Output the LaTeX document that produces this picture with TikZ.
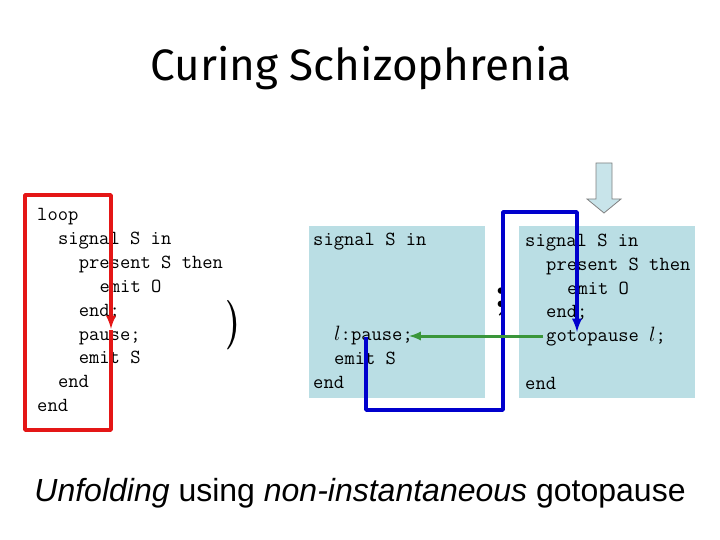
\documentclass[tikz,border=0pt]{standalone}
\usepackage{fontspec}
\newfontfamily\titlefont{Fira Sans}
\newfontfamily\captionfont{Liberation Sans}
\usetikzlibrary{arrows}

\definecolor{boxblue}{RGB}{186,222,228}
\definecolor{arrowblue}{RGB}{200,228,234}
\definecolor{loopred}{RGB}{228,22,22}
\definecolor{jumpblue}{RGB}{0,0,205}
\definecolor{jumpgreen}{RGB}{58,150,58}

\newcommand{\codesize}{\fontsize{20}{24}\selectfont\ttfamily}

\tikzset{
    code/.style={anchor=base west, inner sep=0pt, font=\codesize},
    flow/.style={line width=3.5pt, line join=round},
}

\begin{document}
\begin{tikzpicture}[x=1pt,y=-1pt,>=latex]
    \useasboundingbox (0,0) rectangle (720,540);

    \node[font=\titlefont\fontsize{44}{46}\selectfont] (title) at (361,68) {Curing Schizophrenia};

    % shaded boxes
    \fill[boxblue] (309,226) rectangle (485,398);
    \fill[boxblue] (519,226) rectangle (695,398);

    % original program
    \foreach \lvl/\txt [count=\i] in {0/loop, 1/signal S in, 2/present S then, 3/emit O,
        2/end;, 2/pause;, 2/emit S, 1/end, 0/end}
        \node[code] (L\i) at (37+20.8*\lvl, 221+23.8*\i-23.8) {\txt};

    \node[font=\fontsize{38}{38}\selectfont\bfseries] (paren) at (233,325) {\scalebox{0.9}[1.3]{)}};

    % unfolded program
    \node[code] (M1) at (313,245) {signal S in};
    \node[code] (M2) at (334,340) {$l$:pause;};
    \node[code] (M3) at (334,364) {emit S};
    \node[code] (M4) at (313,388) {end};

    \node[font=\fontsize{44}{44}\selectfont\bfseries] (semi) at (501,302) {;};

    \node[code] (R1) at (525,246) {signal S in};
    \node[code] (R2) at (546,270) {present S then};
    \node[code] (R3) at (567,294) {emit O};
    \node[code] (R4) at (546,317) {end;};
    \node[code] (R5) at (546,341) {gotopause $l$;};
    \node[code] (R6) at (525,389) {end};

    % loop back edge
    \coordinate (redS) at (111,330);
    \coordinate (redBR) at (111,430);
    \coordinate (redBL) at (25,430);
    \coordinate (redTL) at (25,195);
    \coordinate (redTR) at (111,195);
    \coordinate (redE) at (111,329);
    \draw[->,flow,loopred] (redS) -- (redBR) -- (redBL) -- (redTL) -- (redTR) -- (redE);

    % surface to depth
    \coordinate (blueS) at (366,337);
    \coordinate (blueA) at (366,410);
    \coordinate (blueB) at (503,410);
    \coordinate (blueC) at (503,212);
    \coordinate (blueD) at (577,212);
    \coordinate (blueE) at (577,332);
    \draw[->,flow,jumpblue] (blueS) -- (blueA) -- (blueB) -- (blueC) -- (blueD) -- (blueE);

    % gotopause jump
    \coordinate (greenS) at (543,336);
    \coordinate (greenE) at (409,336);
    \draw[->,line width=3pt,jumpgreen] (greenS) -- (greenE);

    % entry arrow
    \draw[gray,fill=arrowblue,line width=0.8pt] (596,163) -- (612,163) -- (612,199) -- (621,199)
        -- (604,213) -- (587,199) -- (596,199) -- cycle;

    \node[font=\captionfont\fontsize{32}{34}\selectfont] (caption) at (360,493)
        {\textit{Unfolding} using \textit{non-instantaneous} gotopause};
\end{tikzpicture}
\end{document}
